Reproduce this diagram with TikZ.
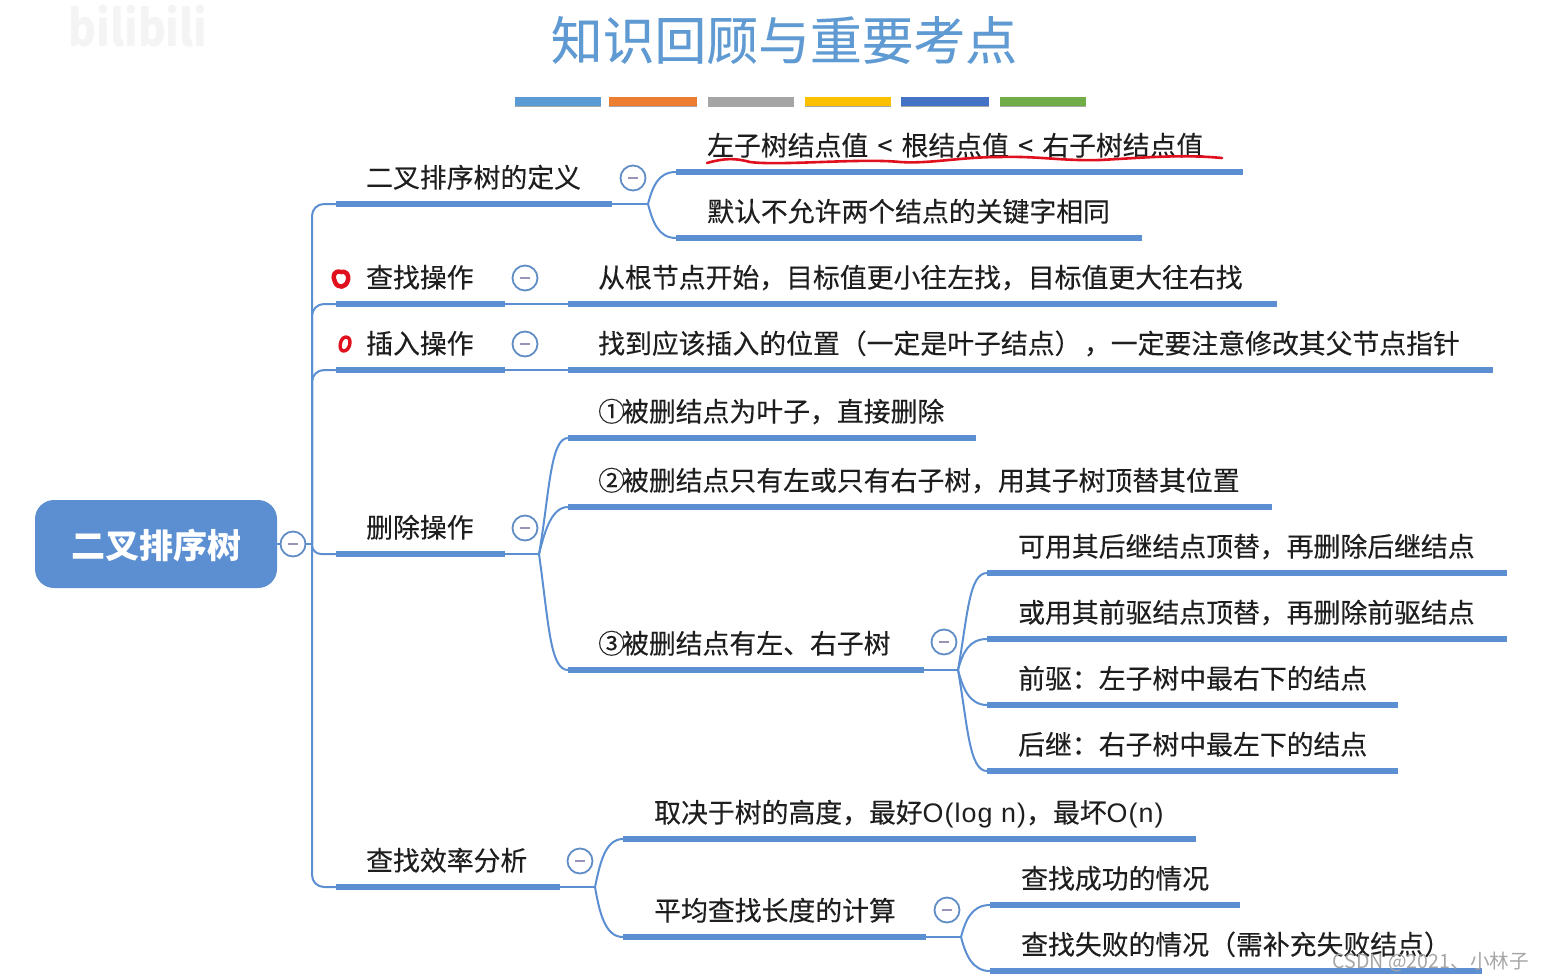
\documentclass[tikz,border=0pt]{standalone}
\usepackage{fontspec}
\setmainfont{Noto Sans CJK SC}
\newfontfamily\latinfont[LetterSpace=4]{Liberation Sans}
\usetikzlibrary{shadows}
\definecolor{linkblue}{HTML}{5B8FD2}
\definecolor{titleblue}{HTML}{5F9AD2}
\definecolor{minusgray}{HTML}{9A93B8}
\definecolor{penred}{HTML}{E0101E}
\definecolor{inkgray}{HTML}{1E1E1E}
\tikzset{
	stem/.style={fill=linkblue,draw=none,inner sep=0pt,minimum height=6pt,anchor=west},
	word/.style={anchor=west,inner sep=0pt,text=inkgray,text height=21pt,text depth=3pt,font=\fontsize{26.85}{30}\selectfont\addfontfeature{FakeBold=0.25}},
	link/.style={draw=linkblue,line width=2pt},
	fan/.style={in=180,in distance=18pt,out distance=18pt},
	button/.style={circle,draw=linkblue!85!gray,line width=1.8pt,fill=white,minimum size=25pt,inner sep=0pt,
		path picture={\draw[minusgray,line width=2pt,shorten >=7.5pt,shorten <=7.5pt] (path picture bounding box.west) -- (path picture bounding box.east);}},
	strip/.style={inner sep=0pt,minimum height=9pt,anchor=west,drop shadow={shadow xshift=0pt,shadow yshift=-1.5pt,opacity=.35,fill=black}},
	redpen/.style={draw=penred,line width=2.6pt,line cap=round,line join=round}
}
% one underlined branch: name, left end, right end, y of the bar, x of the text, text
\newcommand{\topic}[6]{
	\node[stem,minimum width={(#3-#2)*1pt}] (#1) at (#2,#4) {};
	\node[word] (#1text) at (#5,#4-25.5) {#6};
}
\newcommand{\lt}{\hspace*{9.2pt}<\hspace*{9.2pt}}
\begin{document}
\begin{tikzpicture}[x=1pt,y=-1pt]
	\useasboundingbox (0,0) rectangle (1543,980);
	% watermarks
	\node[text=gray!9,xscale=.85,font=\fontsize{50}{52}\selectfont\bfseries] (mark) at (138,26) {bilibili};
	% title
	\node[text=titleblue,font=\fontsize{51.8}{56}\selectfont\addfontfeature{FakeBold=0.2}] (title) at (784,40) {知识回顾与重要考点};
	\node[strip,fill={rgb,255:red,91;green,155;blue,213},minimum width=86pt] (strip1) at (515,101) {};
	\node[strip,fill={rgb,255:red,237;green,125;blue,49},minimum width=88pt] (strip2) at (609,101) {};
	\node[strip,fill={rgb,255:red,165;green,165;blue,165},minimum width=86pt] (strip3) at (708,101) {};
	\node[strip,fill={rgb,255:red,255;green,192;blue,0},minimum width=86pt] (strip4) at (805,101) {};
	\node[strip,fill={rgb,255:red,68;green,114;blue,196},minimum width=88pt] (strip5) at (901,101) {};
	\node[strip,fill={rgb,255:red,112;green,173;blue,71},minimum width=86pt] (strip6) at (1000,101) {};
	% root
	\node[fill=linkblue,rounded corners=19pt,minimum width=242pt,minimum height=88pt,inner sep=0pt,text=white,text height=30pt,text depth=2pt,
		font=\fontsize{34}{38}\selectfont\bfseries] (root) at (156,544) {二叉排序树};
	% first level
	\topic{def}{336}{612}{204}{366}{二叉排序树的定义}
	\topic{find}{336}{505}{304}{366}{查找操作}
	\topic{ins}{336}{505}{370}{366}{插入操作}
	\topic{del}{336}{505}{554}{366}{删除操作}
	\topic{eff}{336}{560}{887}{366}{查找效率分析}
	% second level
	\topic{defa}{676}{1243}{172}{707}{左子树结点值\lt 根结点值\lt 右子树结点值}
	\topic{defb}{676}{1142}{238}{707}{默认不允许两个结点的关键字相同}
	\topic{finda}{568}{1277}{304}{598}{从根节点开始，目标值更小往左找，目标值更大往右找}
	\topic{insa}{568}{1493}{370}{598}{找到应该插入的位置（一定是叶子结点）\hspace*{2.5pt}，一定要注意修改其父节点指针}
	\topic{dela}{568}{976}{438}{598}{①\hspace*{-3pt}被删结点为叶子，直接删除}
	\topic{delb}{568}{1272}{507}{598}{②\hspace*{-3pt}被删结点只有左或只有右子树，用其子树顶替其位置}
	\topic{delc}{568}{924}{670}{598}{③\hspace*{-3pt}被删结点有左、右子树}
	\topic{effa}{623}{1196}{839}{654}{取决于树的高度，最好{\latinfont O(log n)}，最坏{\latinfont O(n)}}
	\topic{effb}{623}{926}{937}{654}{平均查找长度的计算}
	% third level
	\topic{sa}{987}{1507}{573}{1018}{可用其后继结点顶替，再删除后继结点}
	\topic{sb}{987}{1507}{639}{1018}{或用其前驱结点顶替，再删除前驱结点}
	\topic{sc}{987}{1398}{705}{1018}{前驱：左子树中最右下的结点}
	\topic{sd}{987}{1398}{771}{1018}{后继：右子树中最左下的结点}
	\topic{fa}{990}{1240}{905}{1021}{查找成功的情况}
	\topic{fb}{990}{1482}{971}{1021}{查找失败的情况（需补充失败结点）}
	% forks
	\coordinate (trunk) at (312,544);
	\coordinate (forkdef) at (648,204);
	\coordinate (forkdel) at (539,554);
	\coordinate (forkdelc) at (958,670);
	\coordinate (forkeff) at (595,887);
	\coordinate (forkeffb) at (961,937);
	% connectors
	\draw[link] (root.east) -- (trunk);
	\begin{scope}[rounded corners=12pt]
		\draw[link] (trunk) |- (def.west);
		\draw[link] (trunk) |- (find.west);
		\draw[link] (trunk) |- (ins.west);
		\draw[link] (trunk) |- (eff.west);
	\end{scope}
	\draw[link,rounded corners=9pt] (trunk) |- (del.west);
	\draw[link] (def.east) -- (forkdef);
	\draw[link] (find.east) -- (finda.west);
	\draw[link] (ins.east) -- (insa.west);
	\draw[link] (del.east) -- (forkdel);
	\draw[link] (delc.east) -- (forkdelc);
	\draw[link] (eff.east) -- (forkeff);
	\draw[link] (effb.east) -- (forkeffb);
	\draw[link] (forkdef) to[fan,out=75] (defa.west);
	\draw[link] (forkdef) to[fan,out=-75] (defb.west);
	\draw[link] (forkdel) to[fan,out=80,out distance=60pt] (dela.west);
	\draw[link] (forkdel) to[fan,out=75] (delb.west);
	\draw[link] (forkdel) to[fan,out=-82,out distance=70pt] (delc.west);
	\draw[link] (forkdelc) to[fan,out=80,out distance=55pt] (sa.west);
	\draw[link] (forkdelc) to[fan,out=75] (sb.west);
	\draw[link] (forkdelc) to[fan,out=-75] (sc.west);
	\draw[link] (forkdelc) to[fan,out=-80,out distance=55pt] (sd.west);
	\draw[link] (forkeff) to[fan,out=78,out distance=24pt] (effa.west);
	\draw[link] (forkeff) to[fan,out=-80,out distance=26pt] (effb.west);
	\draw[link] (forkeffb) to[fan,out=75] (fa.west);
	\draw[link] (forkeffb) to[fan,out=-75] (fb.west);
	% collapse buttons
	\node[button] (btnroot) at (293,544) {};
	\node[button] (btndef) at (633,178) {};
	\node[button] (btnfind) at (525,278) {};
	\node[button] (btnins) at (525,344) {};
	\node[button] (btndel) at (525,528) {};
	\node[button] (btndelc) at (944,642) {};
	\node[button] (btneff) at (580,861) {};
	\node[button] (btneffb) at (947,910) {};
	% hand marks
	\draw[redpen] (707,163) .. controls (725,158) and (735,158) .. (750,162) .. controls (780,166) and (860,158) .. (900,162) .. controls (930,164) and (960,157) .. (1000,157) .. controls (1040,156) and (1060,161) .. (1100,160) .. controls (1140,158) and (1180,154) .. (1222,158);
	\draw[redpen,line width=4.5pt] (341,272) .. controls (334,270) and (332,276) .. (335,282) .. controls (338,289) and (346,288) .. (348,280) .. controls (349,274) and (346,271) .. (341,272);
	\draw[redpen,line width=3.4pt] (346,337) .. controls (340,337) and (338,350) .. (343,351) .. controls (350,352) and (353,337) .. (346,337);
	\node[text=gray!70,font=\fontsize{19.6}{24}\selectfont,anchor=east,inner sep=0pt] (csdn) at (1529,962) {CSDN @2021、小林子};
\end{tikzpicture}
\end{document}
